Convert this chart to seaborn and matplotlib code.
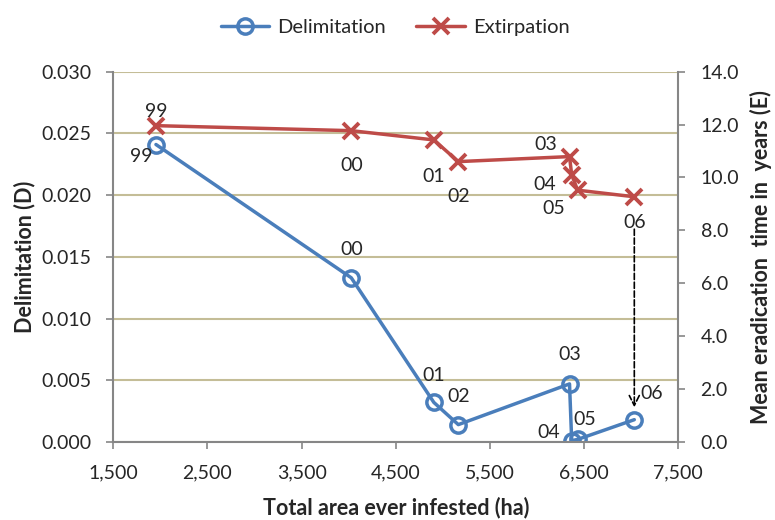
import matplotlib
matplotlib.use("Agg")
import matplotlib.pyplot as plt
import seaborn as sns
import pandas as pd

# Data
years = ["99", "00", "01", "02", "03", "04", "05", "06"]
area = [1953, 4027, 4904, 5164, 6345, 6368, 6431, 7033]
delimitation = [0.0241, 0.0133, 0.0032, 0.0014, 0.0047, 0.0001, 0.0002, 0.0018]
extirpation = [11.96, 11.77, 11.42, 10.60, 10.79, 10.10, 9.52, 9.27]

# label offsets (pixels) for the year annotations
delim_offsets = [(-15, -12), (0, 28), (0, 27), (0, 28), (0, 29), (-23, 8), (7, 20), (17, 26)]
ext_offsets = [(0, 14), (0, -35), (0, -37), (0, -35), (-24, 12), (-27, -10), (-24, -18), (0, -26)]

df = pd.DataFrame({"year": years, "area": area, "D": delimitation, "E": extirpation})

blue = "#4A7EBB"
red = "#BE4B48"
grid_col = "#C4BD97"
spine_col = "#868686"

sns.set_theme(style="white")
plt.rcParams["font.family"] = ["Lato", "DejaVu Sans"]

fig = plt.figure(figsize=(7.75, 5.2), dpi=100)
ax = fig.add_axes([0.1462, 0.1502, 0.8752 - 0.1462, 0.8621 - 0.1502])
ax2 = ax.twinx()

sns.lineplot(data=df, x="area", y="D", ax=ax, color=blue, lw=2.5, sort=False,
             marker="o", markersize=11, markerfacecolor="none",
             markeredgecolor=blue, markeredgewidth=2.5, label="Delimitation")
sns.lineplot(data=df, x="area", y="E", ax=ax2, color=red, lw=2.5, sort=False,
             marker="x", markersize=11, markeredgecolor=red,
             markeredgewidth=2.8, label="Extirpation")

for i, yr in enumerate(years):
    ax.annotate(yr, (area[i], delimitation[i]), xytext=delim_offsets[i],
                textcoords="offset pixels", ha="center", va="center", fontsize=14)
    ax2.annotate(yr, (area[i], extirpation[i]), xytext=ext_offsets[i],
                 textcoords="offset pixels", ha="center", va="center", fontsize=14)

# dashed arrow from extirpation 06 down to delimitation 06
ax2.annotate("", xy=(area[-1], 1.2), xytext=(area[-1], 8.15),
             arrowprops=dict(arrowstyle="->", ls="--", color="black", lw=1.2,
                             mutation_scale=18))

ax.set_xlim(1500, 7500)
ax.set_xticks(range(1500, 7501, 1000))
ax.set_xticklabels([f"{v:,}" for v in range(1500, 7501, 1000)])
ax.set_ylim(0, 0.030)
ax.set_yticks([i * 0.005 for i in range(7)])
ax.set_yticklabels([f"{i * 0.005:.3f}" for i in range(7)])
ax2.set_ylim(0, 14)
ax2.set_yticks(range(0, 15, 2))
ax2.set_yticklabels([f"{v:.1f}" for v in range(0, 15, 2)])

ax.yaxis.grid(True, color=grid_col, lw=1.5)
ax.xaxis.grid(False)
ax.set_axisbelow(True)

for a in (ax, ax2):
    a.spines["top"].set_visible(False)
    for s in ("left", "right", "bottom"):
        a.spines[s].set_color(spine_col)
        a.spines[s].set_linewidth(1.5)
ax.spines["right"].set_visible(False)
ax2.spines["left"].set_visible(False)
ax2.spines["bottom"].set_visible(False)

ax.tick_params(axis="y", left=True, length=5, width=1.2, color=spine_col, labelsize=14, pad=11)
ax.tick_params(axis="x", bottom=True, length=5, width=1.2, color=spine_col, labelsize=14, pad=11)
ax2.tick_params(axis="y", right=True, length=5, width=1.2, color=spine_col, labelsize=14, pad=11)

ax.set_xlabel("Total area ever infested (ha)", fontsize=15.5, fontweight="bold", labelpad=11)
ax.set_ylabel("Delimitation (D)", fontsize=15.5, fontweight="bold", labelpad=4)
ax2.set_ylabel("Mean eradication  time in  years (E)", fontsize=15.5, fontweight="bold", labelpad=8)

h1, l1 = ax.get_legend_handles_labels()
h2, l2 = ax2.get_legend_handles_labels()
ax.get_legend().remove()
ax2.get_legend().remove()
fig.legend(h1 + h2, l1 + l2, loc="center", bbox_to_anchor=(0.51, 0.948), ncol=2,
           frameon=False, fontsize=14.5, handlelength=2.4, columnspacing=1.5,
           handletextpad=0.4)

fig.savefig("out.png", dpi=100)
